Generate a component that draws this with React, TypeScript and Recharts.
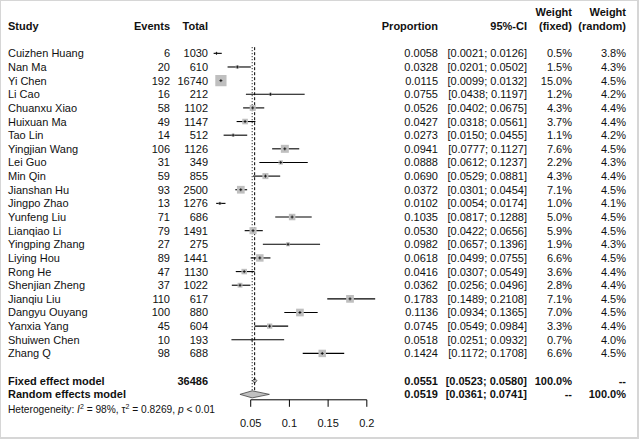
import React from "react";
import { Area, ComposedChart, ErrorBar, ReferenceLine, Scatter, XAxis, YAxis } from "recharts";

const studies = [
  "Cuizhen Huang", "Nan Ma", "Yi Chen", "Li Cao", "Chuanxu Xiao", "Huixuan Ma", "Tao Lin",
  "Yingjian Wang", "Lei Guo", "Min Qin", "Jianshan Hu", "Jingpo Zhao", "Yunfeng Liu", "Lianqiao Li",
  "Yingping Zhang", "Liying Hou", "Rong He", "Shenjian Zheng", "Jianqiu Liu", "Dangyu Ouyang",
  "Yanxia Yang", "Shuiwen Chen", "Zhang Q",
];
const events = [6, 20, 192, 16, 58, 49, 14, 106, 31, 59, 93, 13, 71, 79, 27, 89, 47, 37, 110, 100, 45, 10, 98];
const totals = [1030, 610, 16740, 212, 1102, 1147, 512, 1126, 349, 855, 2500, 1276, 686, 1491, 275, 1441, 1130, 1022, 617, 880, 604, 193, 688];
const proportions = [
  0.0058, 0.0328, 0.0115, 0.0755, 0.0526, 0.0427, 0.0273, 0.0941, 0.0888, 0.069, 0.0372, 0.0102,
  0.1035, 0.053, 0.0982, 0.0618, 0.0416, 0.0362, 0.1783, 0.1136, 0.0745, 0.0518, 0.1424,
];
const ciLower = [
  0.0021, 0.0201, 0.0099, 0.0438, 0.0402, 0.0318, 0.015, 0.0777, 0.0612, 0.0529, 0.0301, 0.0054,
  0.0817, 0.0422, 0.0657, 0.0499, 0.0307, 0.0256, 0.1489, 0.0934, 0.0549, 0.0251, 0.1172,
];
const ciUpper = [
  0.0126, 0.0502, 0.0132, 0.1197, 0.0675, 0.0561, 0.0455, 0.1127, 0.1237, 0.0881, 0.0454, 0.0174,
  0.1288, 0.0656, 0.1396, 0.0755, 0.0549, 0.0496, 0.2108, 0.1365, 0.0984, 0.0932, 0.1708,
];
const weightFixed = [0.5, 1.5, 15.0, 1.2, 4.3, 3.7, 1.1, 7.6, 2.2, 4.3, 7.1, 1.0, 5.0, 5.9, 1.9, 6.6, 3.6, 2.8, 7.1, 7.0, 3.3, 0.7, 6.6];
const weightRandom = [3.8, 4.3, 4.5, 4.2, 4.4, 4.4, 4.2, 4.5, 4.3, 4.4, 4.5, 4.1, 4.5, 4.5, 4.3, 4.5, 4.4, 4.4, 4.5, 4.5, 4.4, 4.0, 4.5];

// summary rows: fixed, random
const modelNames = ["Fixed effect model", "Random effects model"];
const modelTotals = ["36486", ""];
const modelEst = [0.0551, 0.0519];
const modelLower = [0.0523, 0.0361];
const modelUpper = [0.058, 0.0741];
const modelWeightFixed = ["100.0%", "--"];
const modelWeightRandom = ["--", "100.0%"];

const xTicks = [0.05, 0.1, 0.15, 0.2];

const FONT = "'Liberation Sans', Arial, Helvetica, sans-serif";
const FS = 11;

const fixedRow = studies.length + 1;
const randomRow = studies.length + 2;
const rowTicks = [-3, -2, ...studies.map((_, i) => i), fixedRow, randomRow];

const studyPoints = studies.map((_, i) => ({
  x: proportions[i],
  y: i,
  err: [proportions[i] - ciLower[i], ciUpper[i] - proportions[i]],
  w: weightFixed[i],
}));

function diamond(k: number, row: number, h: number) {
  return [
    { x: modelLower[k], band: [row, row] },
    { x: modelEst[k], band: [row - h, row + h] },
    { x: modelUpper[k], band: [row, row] },
  ];
}

const fmt4 = (v: number) => v.toFixed(4);
const ci = (lo: number, hi: number) => `[${fmt4(lo)}; ${fmt4(hi)}]`;

// column anchors (chart coordinates)
const COL = { study: 7, events: 169, total: 207, prop: 437, ci: 526, wf: 571, wr: 625 };

function T({ x, y, anchor = "end", bold = false, children }: any) {
  return (
    <text x={x} y={y} dy="0.36em" textAnchor={anchor} fontFamily={FONT} fontSize={FS}
      fontWeight={bold ? "bold" : "normal"} fill="#111">
      {children}
    </text>
  );
}

function RowTick(props: any) {
  const { y, payload } = props;
  const r = payload.value;
  if (r === -3) {
    return (
      <g>
        <T x={COL.wf} y={y} bold>Weight</T>
        <T x={COL.wr} y={y} bold>Weight</T>
      </g>
    );
  }
  if (r === -2) {
    return (
      <g>
        <T x={COL.study} y={y} anchor="start" bold>Study</T>
        <T x={COL.events} y={y} bold>Events</T>
        <T x={COL.total} y={y} bold>Total</T>
        <T x={COL.prop} y={y} bold>Proportion</T>
        <T x={COL.ci} y={y} bold>95%-CI</T>
        <T x={COL.wf} y={y} bold>(fixed)</T>
        <T x={COL.wr} y={y} bold>(random)</T>
      </g>
    );
  }
  if (r === fixedRow || r === randomRow) {
    const k = r === fixedRow ? 0 : 1;
    return (
      <g>
        <T x={COL.study} y={y} anchor="start" bold>{modelNames[k]}</T>
        <T x={COL.total} y={y} bold>{modelTotals[k]}</T>
        <T x={COL.prop} y={y} bold>{fmt4(modelEst[k])}</T>
        <T x={COL.ci} y={y} bold>{ci(modelLower[k], modelUpper[k])}</T>
        <T x={COL.wf} y={y} bold>{modelWeightFixed[k]}</T>
        <T x={COL.wr} y={y} bold>{modelWeightRandom[k]}</T>
        {k === 1 && (
          <text x={COL.study} y={y + 14.6} dy="0.36em" fontFamily={FONT} fontSize={10.2} fill="#111">
            Heterogeneity: <tspan fontStyle="italic">I</tspan>
            <tspan dy={-4} fontSize={7}>2</tspan>
            <tspan dy={4}> = 98%, τ</tspan>
            <tspan dy={-4} fontSize={7}>2</tspan>
            <tspan dy={4}> = 0.8269, </tspan>
            <tspan fontStyle="italic">p</tspan> &lt; 0.01
          </text>
        )}
      </g>
    );
  }
  const i = r;
  return (
    <g>
      <T x={COL.study} y={y} anchor="start">{studies[i]}</T>
      <T x={COL.events} y={y}>{events[i]}</T>
      <T x={COL.total} y={y}>{totals[i]}</T>
      <T x={COL.prop} y={y}>{fmt4(proportions[i])}</T>
      <T x={COL.ci} y={y}>{ci(ciLower[i], ciUpper[i])}</T>
      <T x={COL.wf} y={y}>{weightFixed[i].toFixed(1)}%</T>
      <T x={COL.wr} y={y}>{weightRandom[i].toFixed(1)}%</T>
    </g>
  );
}

function StudyMarker(props: any) {
  const { cx, cy, payload } = props;
  const side = 2.9 * Math.sqrt(payload.w);
  return (
    <g>
      <rect x={cx - side / 2} y={cy - side / 2} width={side} height={side} fill="#bfbfbf" />
      <line x1={cx - 1.5} x2={cx + 1.5} y1={cy} y2={cy} stroke="#000" strokeWidth={0.8} />
      <line x1={cx} x2={cx} y1={cy - 1.5} y2={cy + 1.5} stroke="#000" strokeWidth={0.8} />
    </g>
  );
}

export default function App() {
  return (
    <div style={{ position: "absolute", left: 0, top: 0, width: 639, height: 439, background: "#d6d6d6" }}>
      <div style={{ position: "absolute", left: 1, top: 1, width: 636, height: 436, background: "#fff" }}>
        <ComposedChart width={636} height={436} margin={{ top: 4.6, right: 254.7, bottom: 7.2, left: 0 }}>
          <XAxis
            type="number"
            dataKey="x"
            domain={[0, 0.22]}
            ticks={xTicks}
            interval={0}
            axisLine={false}
            tickLine={{ stroke: "#000" }}
            tickSize={7}
            tickMargin={12}
            height={30}
            tick={{ fontSize: FS, fill: "#111", fontFamily: FONT }}
          />
          <YAxis
            type="number"
            dataKey="y"
            domain={[-3.5, 25.4]}
            reversed
            ticks={rowTicks}
            interval={0}
            width={211}
            axisLine={false}
            tickLine={false}
            tick={<RowTick />}
          />
          <ReferenceLine segment={[{ x: xTicks[0], y: 25.4 }, { x: xTicks[3], y: 25.4 }]} stroke="#000" ifOverflow="visible" />
          <ReferenceLine segment={[{ x: modelEst[0], y: -0.45 }, { x: modelEst[0], y: 24.75 }]} stroke="#000" strokeDasharray="3 2" />
          <ReferenceLine segment={[{ x: modelEst[1], y: -0.45 }, { x: modelEst[1], y: 24.75 }]} stroke="#000" strokeDasharray="1 2" />
          <Scatter data={studyPoints} isAnimationActive={false} shape={StudyMarker}>
            <ErrorBar dataKey="err" direction="x" width={0} stroke="#000" strokeWidth={1.1} />
          </Scatter>
          <Area data={diamond(0, fixedRow, 0.18)} dataKey="band" type="linear" stroke="#444" strokeWidth={0.8}
            fill="#c0c0c0" fillOpacity={1} dot={false} activeDot={false} isAnimationActive={false} />
          <Area data={diamond(1, randomRow, 0.26)} dataKey="band" type="linear" stroke="#444" strokeWidth={0.8}
            fill="#c0c0c0" fillOpacity={1} dot={false} activeDot={false} isAnimationActive={false} />
        </ComposedChart>
      </div>
    </div>
  );
}
